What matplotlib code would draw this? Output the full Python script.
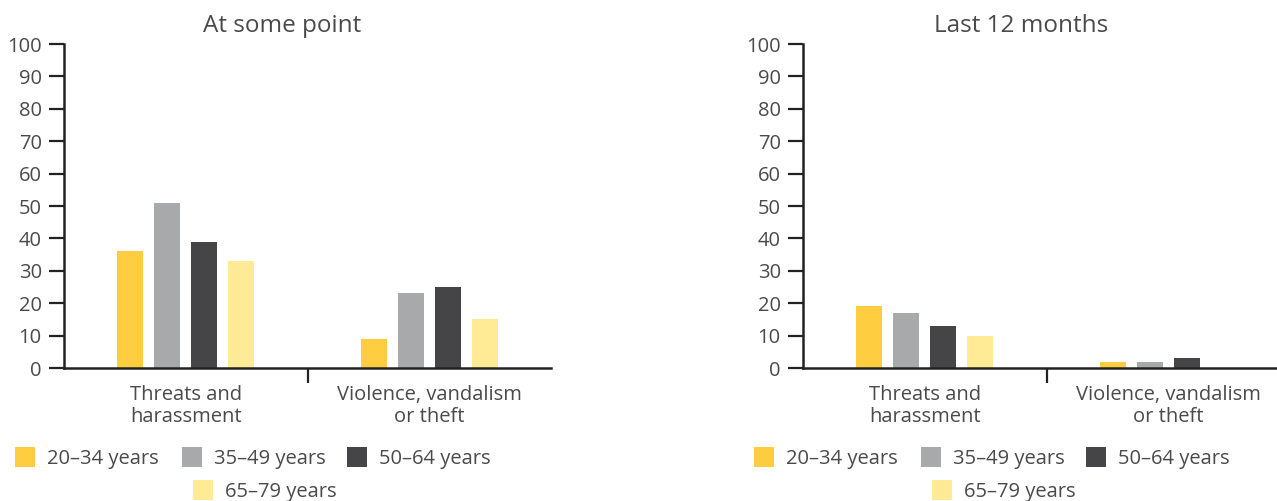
import matplotlib
matplotlib.use("Agg")
import matplotlib.pyplot as plt
from matplotlib.patches import Rectangle
import numpy as np

plt.rcParams['font.family'] = ['Open Sans', 'DejaVu Sans']

categories = ["Threats and\nharassment", "Violence, vandalism\nor theft"]
groups = ["20–34 years", "35–49 years", "50–64 years", "65–79 years"]
colors = ["#FFCD3F", "#A8A9AA", "#454547", "#FFEA96"]

at_some_point = {
    "20–34 years": [36, 9],
    "35–49 years": [51, 23],
    "50–64 years": [39, 25],
    "65–79 years": [33, 15],
}
last_12_months = {
    "20–34 years": [19, 2],
    "35–49 years": [17, 2],
    "50–64 years": [13, 3],
    "65–79 years": [10, 0],
}
titles = ["At some point", "Last 12 months"]
yticks = list(range(0, 101, 10))

W, H = 1277, 501
fig = plt.figure(figsize=(W / 100, H / 100), dpi=100)
txt = "#4a4a4a"
fs = 14.5

def fx(px):
    return px / W

def fy(py):
    return 1 - py / H

pitch = 0.152
bw = 0.107
offsets = [-1.5, -0.5, 0.5, 1.5]

panels = [(64, at_some_point, 0), (803, last_12_months, 739)]
for (x0, data, shift), title in zip(panels, titles):
    ax = fig.add_axes([fx(x0), fy(368), fx(487), 324 / H])
    x = np.arange(len(categories))
    for g, c, o in zip(groups, colors, offsets):
        ax.bar(x + o * pitch, data[g], width=bw, color=c, zorder=2)
    ax.set_xlim(-0.5, 1.5)
    ax.set_ylim(0, 100)
    ax.set_yticks(yticks)
    ax.set_xticks(x)
    ax.set_xticklabels(categories, color=txt, fontsize=fs, linespacing=1.15)
    ax.set_xticks([0.5], minor=True)
    ax.tick_params(axis='x', which='major', length=0, pad=12)
    ax.tick_params(axis='x', which='minor', length=11, width=1.6, color="#222222")
    ax.tick_params(axis='y', length=11, width=1.6, color="#222222", labelcolor=txt,
                   labelsize=fs, pad=5)
    for s in ["top", "right"]:
        ax.spines[s].set_visible(False)
    for s in ["left", "bottom"]:
        ax.spines[s].set_linewidth(1.8)
        ax.spines[s].set_color("#222222")
    fig.text(fx(282 + shift), fy(26), title, ha="center", va="center",
             fontsize=17.5, color=txt)

    # legend
    items = [(15, 457), (182, 457), (347, 457), (193, 490)]
    for (lx, ly), g, c in zip(items, groups, colors):
        lx += shift
        fig.add_artist(Rectangle((fx(lx), fy(ly + 10)), fx(20), 20 / H,
                                 transform=fig.transFigure, color=c, lw=0))
        fig.text(fx(lx + 32), fy(ly + 2), g, ha="left", va="center",
                 fontsize=fs, color=txt)

fig.savefig("out.png", dpi=100)
